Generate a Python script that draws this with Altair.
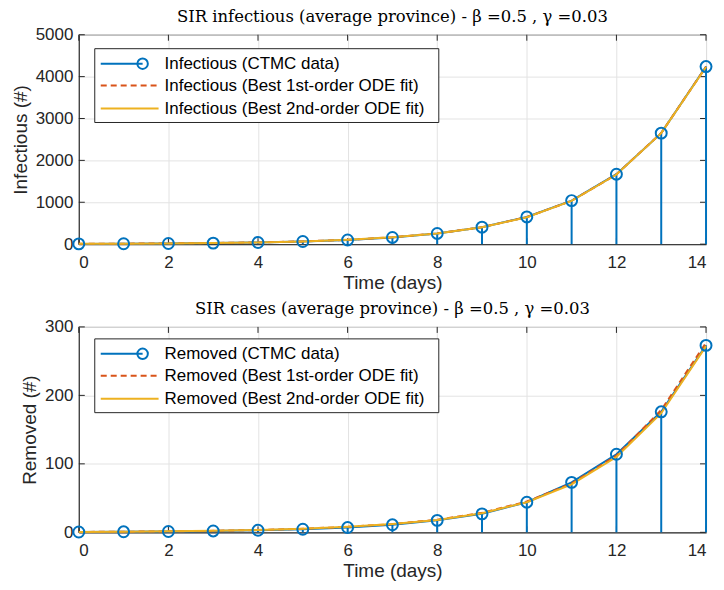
import altair as alt
import pandas as pd

days = list(range(15))
inf_ctmc = [6, 10, 16, 25, 40, 63, 100, 160, 255, 405, 650, 1040, 1670, 2650, 4240]
inf_fit1 = [7, 11, 17, 27, 42, 66, 104, 163, 257, 405, 645, 1035, 1665, 2655, 4235]
inf_fit2 = [7, 11, 17, 27, 42, 66, 104, 163, 256, 404, 643, 1032, 1662, 2650, 4230]

rem_ctmc = [0.5, 0.8, 1.2, 2, 3, 4.5, 7, 11, 17.5, 27, 44, 73, 114, 176, 273]
rem_fit1 = [0.6, 0.9, 1.4, 2.2, 3.4, 5.2, 8, 12, 18.5, 28.5, 45, 71.5, 112, 178.5, 277]
rem_fit2 = [0.6, 0.9, 1.4, 2.2, 3.4, 5.2, 8, 12, 18, 28, 44, 70, 110, 174, 272]

x_ticks = list(range(0, 15, 2))

BLUE = "#0072BD"
RED = "#D95319"
YELLOW = "#EDB120"
AX = "#262626"
FONT = "Liberation Sans"
SERIF = "DejaVu Serif"
W = 629


def panel(ctmc, fit1, fit2, name, ymax, ystep, title, h, legtop):
    df = pd.DataFrame({"day": days, "ctmc": ctmc, "fit1": fit1, "fit2": fit2})
    y_ticks = list(range(0, ymax + 1, ystep))
    xsc = alt.Scale(domain=[0, 14], nice=False)
    x = alt.X("day:Q", scale=xsc, axis=alt.Axis(values=x_ticks, title="Time (days)"))
    ysc = alt.Scale(domain=[0, ymax], nice=False)
    yax = alt.Axis(values=y_ticks, title=f"{name} (#)", format="d")
    base = alt.Chart(df)
    stems = base.mark_rule(color=BLUE, strokeWidth=2).encode(
        x=x, y=alt.Y("ctmc:Q", scale=ysc, axis=yax), y2=alt.datum(0))
    ctmc_line = base.mark_line(color=BLUE, strokeWidth=2).encode(x=x, y=alt.Y("ctmc:Q", scale=ysc, axis=yax))
    pts = base.mark_point(shape="circle", filled=False, color=BLUE, size=120, strokeWidth=2, opacity=1).encode(
        x=x, y=alt.Y("ctmc:Q", scale=ysc, axis=yax))
    l1 = base.mark_line(color=RED, strokeWidth=2, strokeDash=[6, 4]).encode(x=x, y=alt.Y("fit1:Q", scale=ysc, axis=yax))
    l2 = base.mark_line(color=YELLOW, strokeWidth=2).encode(x=x, y=alt.Y("fit2:Q", scale=ysc, axis=yax))

    # inward tick marks on all four sides (MATLAB box style)
    xt = alt.Chart(pd.DataFrame({"t": x_ticks}))
    yt = alt.Chart(pd.DataFrame({"t": y_ticks}))
    tk = dict(color=AX, strokeWidth=1)
    ticks = [
        xt.mark_rule(**tk).encode(x=alt.X("t:Q", scale=xsc), y=alt.value(0), y2=alt.value(6)),
        xt.mark_rule(**tk).encode(x=alt.X("t:Q", scale=xsc), y=alt.value(h - 6), y2=alt.value(h)),
        yt.mark_rule(**tk).encode(y=alt.Y("t:Q", scale=ysc), x=alt.value(0), x2=alt.value(6)),
        yt.mark_rule(**tk).encode(y=alt.Y("t:Q", scale=ysc), x=alt.value(W - 6), x2=alt.value(W)),
    ]

    labels = [f"{name} (CTMC data)", f"{name} (Best 1st-order ODE fit)", f"{name} (Best 2nd-order ODE fit)"]
    rows = [legtop + 15, legtop + 37, legtop + 60]
    one = pd.DataFrame({"a": [0]})
    lb = alt.Chart(one)
    leg = [lb.mark_rect(fill="white", stroke=AX, strokeWidth=1).encode(
        x=alt.value(16), x2=alt.value(361), y=alt.value(legtop), y2=alt.value(legtop + 74))]
    styles = [(BLUE, [], 64), (RED, [6, 4], 80), (YELLOW, [], 80)]
    for (c, d, xe), r, t in zip(styles, rows, labels):
        kw = dict(color=c, strokeWidth=2)
        if d:
            kw["strokeDash"] = d
        leg.append(lb.mark_rule(**kw).encode(x=alt.value(22), x2=alt.value(xe), y=alt.value(r)))
        leg.append(lb.mark_text(align="left", baseline="middle", font=FONT, fontSize=17, color="#000000").encode(
            x=alt.value(86), y=alt.value(r), text=alt.value(t)))
    leg.append(lb.mark_point(shape="circle", filled=False, color=BLUE, size=110, strokeWidth=2, opacity=1).encode(
        x=alt.value(64), y=alt.value(rows[0])))

    return alt.layer(*ticks, stems, ctmc_line, l1, l2, pts, *leg).properties(
        width=W, height=h,
        title=alt.TitleParams(title, font=SERIF, fontSize=16.5, fontWeight="normal", color="#000000", offset=0))


top = panel(inf_ctmc, inf_fit1, inf_fit2, "Infectious", 5000, 1000,
            "SIR infectious (average province) - β =0.5 , γ =0.03", 210, 14)
bot = panel(rem_ctmc, rem_fit1, rem_fit2, "Removed", 300, 100,
            "SIR cases (average province) - β =0.5 , γ =0.03", 206, 12)

chart = alt.vconcat(top, bot, spacing=8).configure(
    padding={"left": 2, "top": 0, "right": 0, "bottom": 0}
).configure_view(stroke=AX, strokeWidth=1).configure_axis(
    labelFont=FONT, titleFont=FONT, labelFontSize=17, titleFontSize=19,
    labelColor=AX, titleColor=AX, titleFontWeight="normal",
    gridColor="#e3e3e3", domainColor=AX, tickSize=0,
    labelPadding=10
).configure_axisX(titlePadding=3).configure_axisY(titlePadding=5, labelPadding=6)

chart.save("out.html", embed_options={"renderer": "svg", "actions": False})
